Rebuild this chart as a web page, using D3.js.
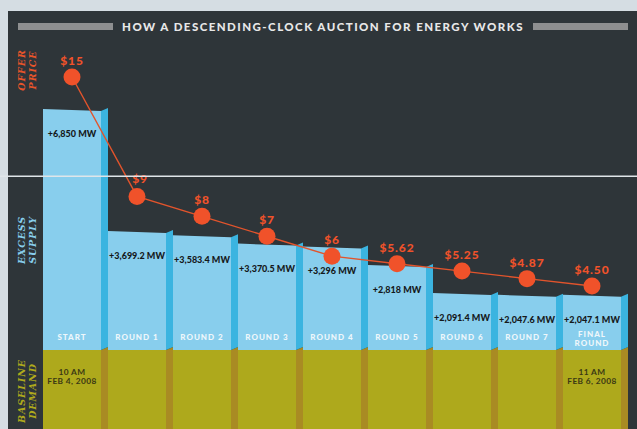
<!DOCTYPE html>
<html>
<head>
<script src="https://d3js.org/d3.v7.min.js"></script>
<style>
  body { margin: 0; padding: 0; background: #d5dde3; }
  svg { display: block; }
  text { font-family: Lato, "Open Sans", sans-serif; }
</style>
</head>
<body>
<script>
var rounds = ["START", "ROUND 1", "ROUND 2", "ROUND 3", "ROUND 4", "ROUND 5", "ROUND 6", "ROUND 7", "FINAL ROUND"];
var supplyMW = [6850, 3699.2, 3583.4, 3370.5, 3296, 2818, 2091.4, 2047.6, 2047.1];
var offerPrice = [15, 9, 8, 7, 6, 5.62, 5.25, 4.87, 4.50];
var priceLabels = ["$15", "$9", "$8", "$7", "$6", "$5.62", "$5.25", "$4.87", "$4.50"];
var roundLines = [["START"], ["ROUND 1"], ["ROUND 2"], ["ROUND 3"], ["ROUND 4"], ["ROUND 5"], ["ROUND 6"], ["ROUND 7"], ["FINAL", "ROUND"]];
var dateLabels = [["10 AM", "FEB 4, 2008"], null, null, null, null, null, null, null, ["11 AM", "FEB 6, 2008"]];
var axisLabels = [["OFFER", "PRICE"], ["EXCESS", "SUPPLY"], ["BASELINE", "DEMAND"]];

var width = 637, height = 429;
var baseY = 350, sideW = 7;

var svg = d3.select("body").append("svg")
    .attr("width", width)
    .attr("height", height);

// dark panel
svg.append("rect")
    .attr("x", 8).attr("y", 11)
    .attr("width", width - 8).attr("height", height - 11)
    .attr("fill", "#2e3539");

// title with grey rules
svg.append("rect").attr("x", 18).attr("y", 23).attr("width", 95).attr("height", 7).attr("fill", "#8e8f90");
svg.append("rect").attr("x", 533).attr("y", 23).attr("width", 95).attr("height", 7).attr("fill", "#8e8f90");
svg.append("text")
    .attr("x", 323).attr("y", 31)
    .attr("text-anchor", "middle")
    .attr("fill", "#e8e8e8")
    .style("font-size", "11.5px")
    .style("font-weight", 900)
    .style("letter-spacing", "1.45px")
    .text("HOW A DESCENDING-CLOCK AUCTION FOR ENERGY WORKS");

var x = d3.scaleBand().domain(rounds).range([43, 628]);
var y = d3.scaleLinear().domain([0, 6850]).range([374, 109]);
var p = d3.scaleLinear().domain([4.5, 15]).range([286, 77]);

var faceW = x.bandwidth() - sideW;

var bars = svg.selectAll(".bar")
    .data(rounds)
    .enter().append("g")
    .attr("class", "bar");

// olive baseline demand
bars.append("rect")
    .attr("x", d => x(d))
    .attr("y", baseY)
    .attr("width", faceW)
    .attr("height", height - baseY)
    .attr("fill", "#aea91c");
bars.append("polygon")
    .attr("points", d => {
        var x0 = x(d) + faceW, x1 = x(d) + x.bandwidth();
        return [[x0, baseY], [x1, baseY - 3], [x1, height], [x0, height]].join(" ");
    })
    .attr("fill", "#a98b23");

// excess supply faces
bars.append("polygon")
    .attr("points", (d, i) => {
        var x0 = x(d), top = y(supplyMW[i]);
        return [[x0, top], [x0 + faceW, top + 2], [x0 + faceW, baseY], [x0, baseY]].join(" ");
    })
    .attr("fill", "#88ceed");
bars.append("polygon")
    .attr("points", (d, i) => {
        var x0 = x(d) + faceW, x1 = x(d) + x.bandwidth(), top = y(supplyMW[i]);
        return [[x0, top + 2], [x1, top - 1], [x1, baseY - 3], [x0, baseY]].join(" ");
    })
    .attr("fill", "#3bb4e0");

// MW labels
bars.append("text")
    .attr("x", d => x(d) + faceW / 2)
    .attr("y", (d, i) => y(supplyMW[i]) + 28)
    .attr("text-anchor", "middle")
    .attr("fill", "#15191b")
    .style("font-size", "9px")
    .style("font-weight", 900)
    .text((d, i) => "+" + d3.format(",")(supplyMW[i]) + " MW");

// round names and dates
bars.each(function(d, i) {
    var lines = roundLines[i];
    var y0 = lines.length > 1 ? 337 : 340;
    d3.select(this).selectAll(".rname")
        .data(lines)
        .enter().append("text")
        .attr("class", "rname")
        .attr("x", x(d) + faceW / 2)
        .attr("y", (t, j) => y0 + j * 9)
        .attr("text-anchor", "middle")
        .attr("fill", "#eef7fb")
        .style("font-size", "8px")
        .style("font-weight", 900)
        .style("letter-spacing", "1px")
        .text(t => t);

    if (dateLabels[i]) {
        d3.select(this).selectAll(".date")
            .data(dateLabels[i])
            .enter().append("text")
            .attr("class", "date")
            .attr("x", x(d) + faceW / 2)
            .attr("y", (t, j) => 375 + j * 9)
            .attr("text-anchor", "middle")
            .attr("fill", "#3a3814")
            .style("font-size", "8.3px")
            .style("font-weight", 700)
            .style("letter-spacing", "0.4px")
            .text(t => t);
    }
});

// offer price line and dots
var line = d3.line()
    .x((d, i) => x(rounds[i]) + faceW / 2)
    .y(d => p(d));

svg.append("path")
    .datum(offerPrice)
    .attr("d", line)
    .attr("fill", "none")
    .attr("stroke", "#e2542c")
    .attr("stroke-width", 1.4);

svg.selectAll(".dot")
    .data(offerPrice)
    .enter().append("circle")
    .attr("class", "dot")
    .attr("cx", (d, i) => x(rounds[i]) + faceW / 2)
    .attr("cy", d => p(d))
    .attr("r", 8.5)
    .attr("fill", "#f0522a");

svg.selectAll(".plabel")
    .data(offerPrice)
    .enter().append("text")
    .attr("class", "plabel")
    .attr("x", (d, i) => x(rounds[i]) + faceW / 2 + (i == 1 ? 3 : 0))
    .attr("y", (d, i) => p(d) - (i == 1 ? 13 : 12))
    .attr("text-anchor", "middle")
    .attr("fill", "#f0522a")
    .style("font-size", "12px")
    .style("font-weight", 900)
    .style("letter-spacing", "0.9px")
    .text((d, i) => priceLabels[i]);

// left rotated section labels
var axisY = [70, 240, 391];
var axisColor = ["#e8542a", "#88ceed", "#aea91c"];
axisLabels.forEach((lines, k) => {
    lines.forEach((t, j) => {
        svg.append("text")
            .attr("transform", "translate(" + (25 + j * 11) + "," + axisY[k] + ")rotate(-90)")
            .attr("text-anchor", "middle")
            .attr("fill", axisColor[k])
            .style("font-family", "'DejaVu Serif', serif")
            .style("font-style", "italic")
            .style("font-weight", 700)
            .style("font-size", "9.5px")
            .style("letter-spacing", "0.9px")
            .text(t);
    });
});

// thin white rule across the whole graphic
svg.append("rect")
    .attr("x", 0).attr("y", 175.5)
    .attr("width", width).attr("height", 1.5)
    .attr("fill", "#dfe5e9");
</script>
</body>
</html>
